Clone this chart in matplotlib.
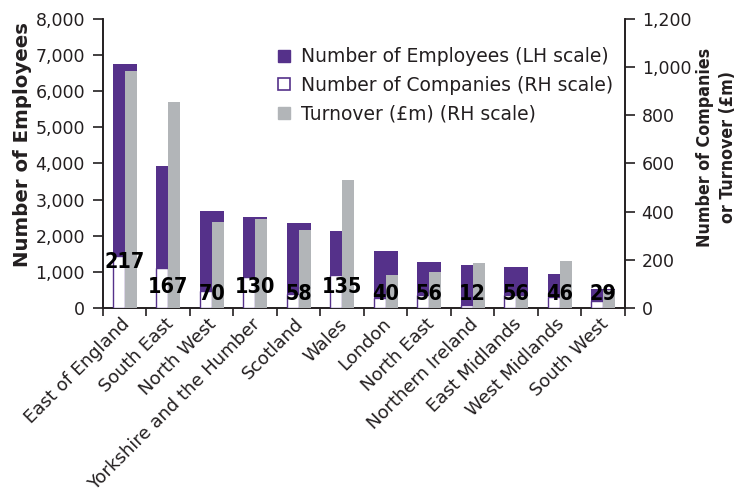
import numpy as np
import matplotlib
matplotlib.use("Agg")
import matplotlib.pyplot as plt
from matplotlib.lines import Line2D
from matplotlib.ticker import FuncFormatter, FixedLocator

# Regional data
regions = ["East of England", "South East", "North West", "Yorkshire and the Humber",
           "Scotland", "Wales", "London", "North East", "Northern Ireland",
           "East Midlands", "West Midlands", "South West"]
employees = [6750, 3940, 2680, 2520, 2350, 2130, 1580, 1260, 1180, 1130, 940, 530]
companies = [217, 167, 70, 130, 58, 135, 40, 56, 12, 56, 46, 29]
turnover = [985, 855, 355, 370, 325, 530, 135, 150, 185, 50, 195, 75]

purple = "#55318A"
grey = "#B2B5B8"
ink = "#231F20"

plt.rcParams["font.family"] = ["DejaVu Sans"]

fig = plt.figure(figsize=(7.5, 4.97), dpi=100)
ax = fig.add_axes([0.1373, 0.3803, 0.696, 0.5815])
ax2 = ax.twinx()

x = np.arange(len(regions))
w = 0.55

ax.bar(x, employees, width=w, color=purple, zorder=2)
ax2.bar(x - w / 4, companies, width=w / 2, color="white", edgecolor=purple, linewidth=1.0, zorder=3)
ax2.bar(x + w / 4, turnover, width=w / 2, color=grey, zorder=3)

# company count labels
for xi, c in zip(x, companies):
    if c > 200:
        base = c - 67
    elif c >= 130:
        base = 45
    else:
        base = 18
    ax2.text(xi, base, str(c), ha="center", va="bottom", fontsize=15.5, fontweight="bold",
             fontstretch="condensed", family=["DejaVu Sans"], color="black", zorder=5)

ax.set_xlim(-0.5, len(regions) - 0.5)
ax.set_ylim(0, 8000)
ax2.set_ylim(0, 1200)
ax.set_yticks(range(0, 8001, 1000))
ax2.set_yticks(range(0, 1201, 200))
fmt = FuncFormatter(lambda v, p: f"{int(v):,}")
ax.yaxis.set_major_formatter(fmt)
ax2.yaxis.set_major_formatter(fmt)

# region names, rotated, drawn as annotations so they can be nudged
ax.set_xticks([])
for xi, name in zip(x, regions):
    ax.annotate(name, (xi, 0), xycoords=("data", "axes fraction"), xytext=(-3, -5),
                textcoords="offset points", rotation=45, ha="right", va="top",
                rotation_mode="anchor", fontsize=13, color=ink)
ax.xaxis.set_minor_locator(FixedLocator(np.arange(-0.5, len(regions), 1.0)))
ax.tick_params(axis="x", which="minor", length=6, width=1.2, direction="out", color=ink)
ax.tick_params(axis="y", length=7, width=1.2, labelsize=12.5, labelcolor=ink, color=ink, pad=6)
ax2.tick_params(axis="y", length=7, width=1.2, labelsize=12.5, labelcolor=ink, color=ink, pad=5)

for a in (ax, ax2):
    a.spines["top"].set_visible(False)
    for s in ("left", "right", "bottom"):
        a.spines[s].set_linewidth(1.2)
        a.spines[s].set_color(ink)

ax.set_ylabel("Number of Employees", fontsize=14.2, fontweight="bold", color=ink)
ax.yaxis.set_label_coords(-0.136, 0.567)
ax2.set_ylabel("Number of Companies\nor Turnover (£m)", fontsize=12.8, fontweight="bold",
               fontstretch="condensed", color=ink, ha="center", va="center", rotation=90,
               linespacing=1.35)
ax2.yaxis.set_label_coords(1.175, 0.557)

handles = [
    Line2D([], [], marker="s", linestyle="none", markersize=9, markerfacecolor=purple,
           markeredgecolor=purple),
    Line2D([], [], marker="s", linestyle="none", markersize=8, markerfacecolor="white",
           markeredgecolor=purple, markeredgewidth=1.2),
    Line2D([], [], marker="s", linestyle="none", markersize=9, markerfacecolor=grey,
           markeredgecolor=grey),
]
labels = ["Number of Employees (LH scale)", "Number of Companies (RH scale)",
          "Turnover (£m) (RH scale)"]
ax2.legend(handles, labels, loc="upper left", bbox_to_anchor=(0.3, 0.96), frameon=False,
           fontsize=13.5, handlelength=0.8, handletextpad=0.5, labelspacing=0.5,
           labelcolor=ink)

fig.savefig("out.png", dpi=100)
